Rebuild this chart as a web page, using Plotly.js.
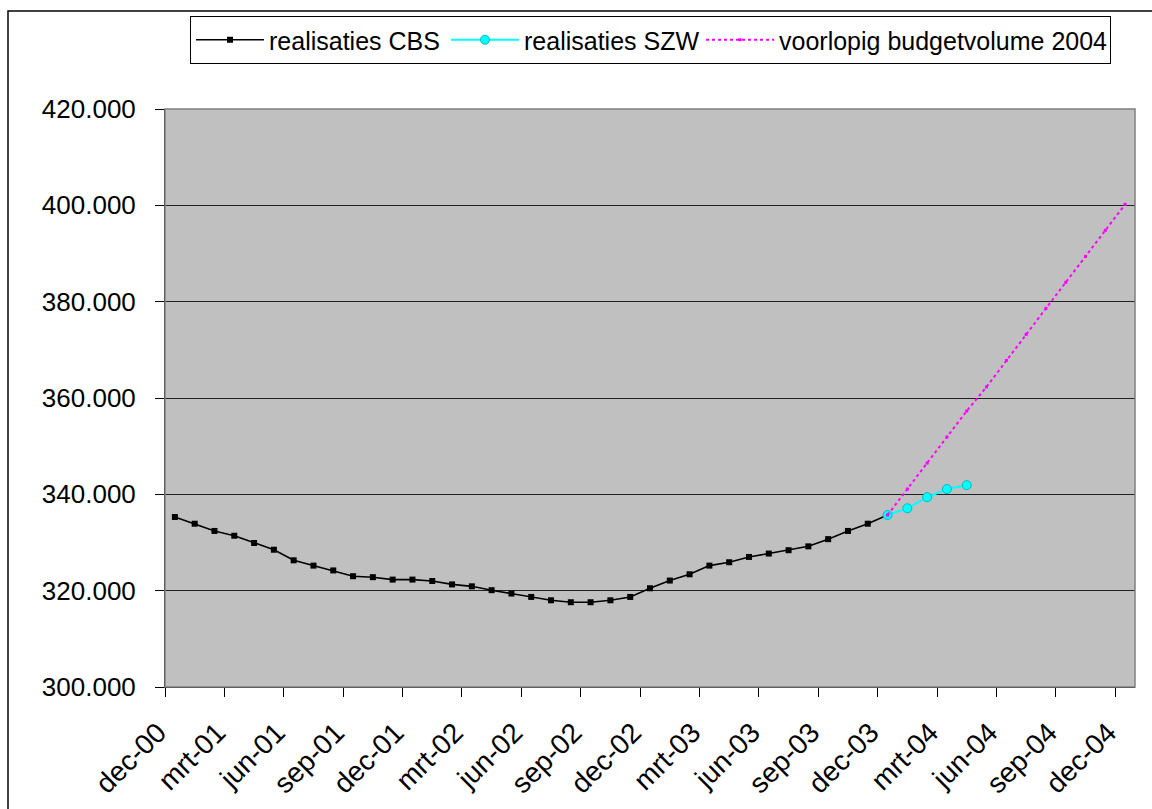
<!DOCTYPE html>
<html>
<head>
<meta charset="utf-8">
<script src="https://cdn.plot.ly/plotly-3.0.1.min.js"></script>
<style>
  html, body { margin: 0; padding: 0; background: #ffffff; }
  #chart { width: 1152px; height: 809px; }
</style>
</head>
<body>
<div id="chart"></div>
<script>
// Month categories (Dutch abbreviations), dec-00 .. dec-04
const months = [
  'dec-00',
  'jan-01','feb-01','mrt-01','apr-01','mei-01','jun-01','jul-01','aug-01','sep-01','okt-01','nov-01','dec-01',
  'jan-02','feb-02','mrt-02','apr-02','mei-02','jun-02','jul-02','aug-02','sep-02','okt-02','nov-02','dec-02',
  'jan-03','feb-03','mrt-03','apr-03','mei-03','jun-03','jul-03','aug-03','sep-03','okt-03','nov-03','dec-03',
  'jan-04','feb-04','mrt-04','apr-04','mei-04','jun-04','jul-04','aug-04','sep-04','okt-04','nov-04','dec-04'
];

// Axis tick labels (every third month)
const tickLabels = ['dec-00','mrt-01','jun-01','sep-01','dec-01','mrt-02','jun-02','sep-02','dec-02',
                    'mrt-03','jun-03','sep-03','dec-03','mrt-04','jun-04','sep-04','dec-04'];

// realisaties CBS (from dec-00)
const cbsStart = 'dec-00';
const cbsValues = [335300, 333900, 332400, 331400, 329900, 328500, 326300, 325200, 324200, 323000,
                   322800, 322300, 322300, 322000, 321300, 320900, 320100, 319400, 318700, 318000,
                   317600, 317600, 318000, 318700, 320500, 322100, 323400, 325200, 325900, 327000,
                   327700, 328400, 329200, 330700, 332400, 333900, 335700];

// realisaties SZW (from dec-03)
const szwStart = 'dec-03';
const szwValues = [335700, 337100, 339400, 341100, 341900];

// voorlopig budgetvolume 2004 (from dec-03)
const budgetStart = 'dec-03';
const budgetValues = [335700, 341100, 346500, 351900, 357300, 362300, 367800, 373200, 378600,
                      384000, 389400, 394800, 400200];

const seriesNames = ['realisaties CBS', 'realisaties SZW', 'voorlopig budgetvolume 2004'];

function xs(start, vals) {
  const s = months.indexOf(start);
  return vals.map((v, i) => s + i);
}
function hov(start, vals) {
  const s = months.indexOf(start);
  return vals.map((v, i) => months[s + i]);
}

const traces = [
  {
    type: 'scatter', mode: 'lines+markers', name: seriesNames[0],
    x: xs(cbsStart, cbsValues), y: cbsValues, text: hov(cbsStart, cbsValues),
    line: { color: '#000000', width: 1.6 },
    marker: { symbol: 'square', size: 6, color: '#000000' },
    legendwidth: 172
  },
  {
    type: 'scatter', mode: 'lines+markers', name: seriesNames[1],
    x: xs(szwStart, szwValues), y: szwValues, text: hov(szwStart, szwValues),
    line: { color: '#00ffff', width: 2 },
    marker: { symbol: 'circle', size: 9, color: '#00ffff', line: { color: '#00b8c8', width: 1 } },
    legendwidth: 172
  },
  {
    type: 'scatter', mode: 'lines+markers', name: seriesNames[2],
    x: xs(budgetStart, budgetValues), y: budgetValues, text: hov(budgetStart, budgetValues),
    line: { color: '#ff00ff', width: 2, dash: 'dot' },
    marker: { symbol: 'square', size: 3, color: '#ff00ff' },
    legendwidth: 326
  }
];

const L = 165, R = 17, T = 109, B = 122;
const W = 1152, H = 809;
const pw = W - L - R, ph = H - T - B;

const layout = {
  width: W, height: H,
  margin: { l: L, r: R, t: T, b: B, pad: 0 },
  paper_bgcolor: '#ffffff',
  plot_bgcolor: '#c0c0c0',
  separators: ',.',
  font: { family: '"Liberation Sans", Arial, sans-serif', color: '#000000', size: 24 },
  showlegend: true,
  legend: {
    orientation: 'h',
    x: (190 - L) / pw, xanchor: 'left',
    y: (H - B - 16) / ph, yanchor: 'top',
    bordercolor: '#000000', borderwidth: 1,
    bgcolor: '#ffffff',
    font: { size: 25, family: '"Liberation Sans", Arial, sans-serif' },
    traceorder: 'normal',
    itemwidth: 68,
    entrywidthmode: 'pixels'
  },
  xaxis: {
    type: 'linear',
    range: [-0.5, months.length - 0.5],
    tickmode: 'array',
    tickvals: tickLabels.map(t => months.indexOf(t) - 0.5),
    ticktext: tickLabels,
    tickangle: -45,
    ticks: 'outside', ticklen: 9, tickcolor: '#000000', tickwidth: 1,
    tickfont: { size: 28 },
    ticklabelstandoff: 8,
    ticklabelshift: -7,
    showgrid: false, zeroline: false,
    showline: true, linecolor: '#000000', linewidth: 1,
    mirror: false,
    fixedrange: true
  },
  yaxis: {
    range: [300000, 420000],
    tickmode: 'linear', tick0: 300000, dtick: 20000,
    tickformat: ',d',
    ticks: 'outside', ticklen: 9, tickcolor: '#000000', tickwidth: 1,
    tickfont: { size: 26 },
    ticklabelstandoff: 14,
    showgrid: true, gridcolor: '#222222', gridwidth: 1,
    zeroline: false,
    showline: true, linecolor: '#000000', linewidth: 1,
    fixedrange: true
  },
  shapes: [
    // plot area border (grey)
    { type: 'rect', xref: 'paper', yref: 'paper', x0: 0, x1: 1, y0: 0, y1: 1,
      line: { color: '#808080', width: 1.5 }, layer: 'above' },
    // outer chart frame
    { type: 'rect', xref: 'paper', yref: 'paper',
      x0: (8 - L) / pw, x1: (W + 10 - L) / pw,
      y0: (H - B - (H + 10)) / ph, y1: (H - B - 11) / ph,
      line: { color: '#000000', width: 1.5 }, layer: 'below' }
  ]
};

Plotly.newPlot('chart', traces, layout, { displayModeBar: false, staticPlot: true });
</script>
</body>
</html>
